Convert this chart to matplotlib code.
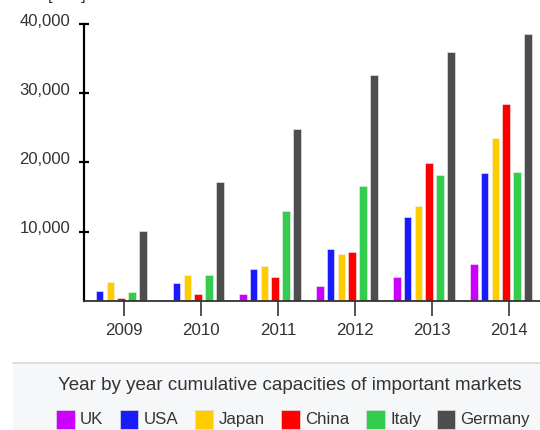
import numpy as np
import matplotlib
matplotlib.use("Agg")
import matplotlib.pyplot as plt
import matplotlib.transforms as mtransforms
from matplotlib.patches import Rectangle

plt.rcParams['font.family'] = ['Liberation Sans', 'DejaVu Sans']

years = ['2009', '2010', '2011', '2012', '2013', '2014']
markets = ['UK', 'USA', 'Japan', 'China', 'Italy', 'Germany']
colors = ['#cc00ff', '#1a1aff', '#ffcc00', '#ff0000', '#33cc4d', '#4d4d4d']

uk      = [90, 90, 970, 2120, 3470, 5260]
usa     = [1445, 2510, 4540, 7470, 12140, 18410]
japan   = [2750, 3670, 5020, 6800, 13690, 23520]
china   = [350, 1010, 3470, 7000, 19950, 28390]
italy   = [1210, 3670, 13010, 16580, 18130, 18600]
germany = [10120, 17200, 24860, 32630, 35990, 38510]
series = [uk, usa, japan, china, italy, germany]

title = 'Year by year cumulative capacities of important markets'
yticks = [10000, 20000, 30000, 40000]

W, H = 540, 430
fig = plt.figure(figsize=(W/100, H/100), dpi=100)
ax = fig.add_axes([84/W, (H-300.7)/H, 1-84/W, (300.7-24)/H])

band = 77.0
x = np.arange(len(years))
for i, (vals, c) in enumerate(zip(series, colors)):
    ax.bar(x + (1 + 10.8*i)/band, vals, width=7.6/band, align='edge',
           color=c, edgecolor='#f0f0f0', linewidth=0.4, zorder=2)

ax.set_xlim(0, (W-84)/band)
ax.set_ylim(0, 40000)
ax.set_xticks(x + 0.52)
ax.set_xticklabels(years)
ax.set_yticks(yticks)
ax.set_yticklabels(['{:,}'.format(v) for v in yticks])

for s in ['top', 'right']:
    ax.spines[s].set_visible(False)
ax.spines['left'].set_linewidth(1.6)
ax.spines['left'].set_color('black')
ax.spines['bottom'].set_linewidth(1.3)
ax.spines['bottom'].set_color('#333333')
ax.spines['left'].set_zorder(3)
ax.spines['bottom'].set_zorder(3)

ax.tick_params(axis='y', direction='inout', length=7.5, width=1.6, color='black',
               labelsize=12, labelcolor='#333333', pad=6)
ax.tick_params(axis='x', direction='out', length=11, width=1.1, color='#222222',
               labelsize=12.2, labelcolor='#333333', pad=5)
# y labels sit a little above their ticks
up = mtransforms.ScaledTranslation(0, 3/72, fig.dpi_scale_trans)
for lab in ax.get_yticklabels():
    lab.set_transform(lab.get_transform() + up)

# unit label at the very top, mostly cut off
fig.text(67/W, 1 - 3/H, '[MW]', fontsize=12, color='#333333', ha='center', va='bottom')

# legend area
fig.patches.append(Rectangle((13/W, 0), 1 - 13/W, (H-362.5)/H, transform=fig.transFigure,
                             facecolor='#f6f7f9', edgecolor='none', zorder=0))
fig.add_artist(plt.Line2D([13/W, 1], [(H-362.5)/H, (H-362.5)/H], transform=fig.transFigure,
                          color='#d8d8d8', linewidth=1.2))
fig.text(58.3/W, (H-385)/H, title, fontsize=13.5, color='#333333', ha='left', va='center')

sq_x = [56, 119.5, 194.5, 281, 366, 436.5]
for m, c, sx in zip(markets, colors, sq_x):
    fig.patches.append(Rectangle((sx/W, (H-428.5)/H), 18.5/W, 19/H, transform=fig.transFigure,
                                 facecolor=c, edgecolor='#dddddd', linewidth=0.5))
    fig.text((sx + 24)/W, (H-419.3)/H, m, fontsize=12.2, color='#333333', ha='left', va='center')

fig.savefig('out.png', dpi=100)
